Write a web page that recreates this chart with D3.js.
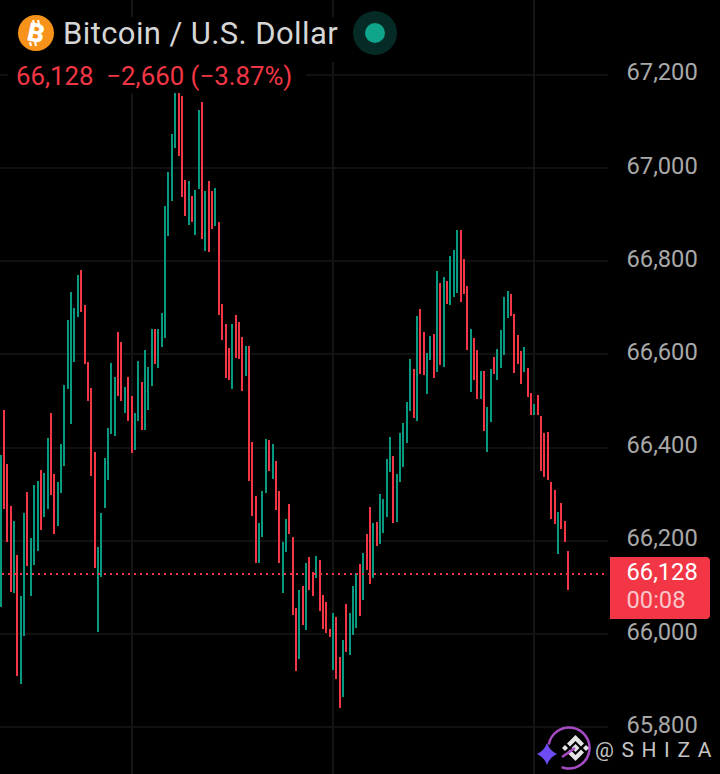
<!DOCTYPE html>
<html>
<head>
<meta charset="utf-8">
<script src="https://cdn.jsdelivr.net/npm/d3@7"></script>
<style>
  html, body { margin: 0; padding: 0; background: #000; }
  svg { display: block; font-family: Roboto, sans-serif; }
</style>
</head>
<body>
<div id="vis"></div>
<script>
var highs = [66384,66481,66365,66275,66243,66170,66082,66260,66305,66206,
  66320,66328,66352,66346,66421,66474,66343,66326,66408,66534,
  66674,66734,66700,66770,66781,66706,66584,66528,66391,66187,
  66260,66378,66442,66582,66552,66648,66627,66530,66551,66511,
  66474,66586,66541,66609,66573,66654,66654,66654,66689,66918,
  66991,67073,67160,67160,67154,66974,66972,66940,66953,67124,
  67142,66951,66972,66951,66957,66884,66708,66665,66614,66665,
  66684,66669,66637,66618,66618,66412,66296,66238,66307,66418,
  66416,66408,66371,66307,66197,66247,66279,66208,66056,66094,
  66103,66152,66165,66133,66167,66159,66084,66069,66011,66045,
  66036,65951,65987,66064,66045,66103,66131,66150,66174,66215,
  66273,66238,66240,66300,66290,66376,66423,66382,66343,66431,
  66453,66498,66590,66569,66682,66697,66648,66603,66640,66644,
  66779,66753,66766,66758,66811,66824,66867,66867,66805,66747,
  66655,66635,66609,66564,66564,66487,66569,66594,66612,66652,
  66723,66736,66730,66687,66642,66607,66616,66571,66517,66494,
  66513,66468,66431,66434,66326,66309,66262,66281,66243,66178];

var lows = [66059,66268,66197,66090,66088,65910,65893,65996,66146,66082,
  66148,66178,66223,66251,66268,66298,66215,66232,66303,66361,
  66526,66451,66584,66680,66691,66579,66500,66339,66142,66004,
  66122,66270,66331,66429,66425,66511,66500,66474,66457,66388,
  66395,66457,66438,66438,66481,66532,66579,66571,66616,66635,
  66854,66929,67043,67026,66938,66897,66878,66884,66856,66955,
  66848,66822,66820,66869,66875,66685,66631,66549,66545,66526,
  66592,66590,66521,66554,66328,66253,66152,66152,66208,66303,
  66350,66333,66266,66152,66088,66176,66215,66041,65921,65946,
  66019,66009,66094,66082,66120,66049,66011,66002,65994,65923,
  65903,65841,65865,65961,65955,65998,66013,66039,66073,66137,
  66107,66120,66189,66193,66217,66251,66348,66238,66240,66326,
  66358,66410,66479,66464,66457,66558,66556,66515,66588,66549,
  66562,66577,66573,66708,66706,66723,66732,66712,66730,66609,
  66519,66545,66504,66504,66436,66391,66455,66558,66545,66571,
  66599,66678,66682,66560,66579,66537,66562,66509,66470,66470,
  66470,66350,66337,66331,66247,66236,66172,66225,66197,66094];

// indexes of the rising bars, everything else is red
var greenBars = [0,4,6,7,9,10,11,13,14,17,18,19,20,21,22,23,29,30,31,32,33,34,37,40,41,43,44,45,47,48,49,50,51,52,
  56,58,59,61,64,69,73,77,78,79,81,84,85,89,91,94,99,102,104,105,106,108,111,113,114,115,116,118,119,120,121,122,
  124,127,128,130,132,134,135,136,140,143,145,146,148,149,150,151,156,159,166];

var priceTicks = [65800,66000,66200,66400,66600,66800,67000,67200];
var timeTicks = [39,99,159];
var lastPrice = 66128;
var titleText = "Bitcoin / U.S. Dollar";
var changeText = "66,128  \u22122,660 (\u22123.87%)";
var countdown = "00:08";
var handle = "@SHIZA";

var width = 720, height = 774, red = "#f23645", green = "#089981";

var x = d3.scaleLinear().domain([0,169]).range([0.64,568]);
var y = d3.scaleLinear().domain([65800,67200]).range([727.2,74.8]);

var svg = d3.select("#vis").append("svg")
  .attr("width", width)
  .attr("height", height);

svg.append("rect").attr("width", width).attr("height", height).attr("fill", "#000");

// grid
svg.selectAll(".hgrid").data(priceTicks).enter().append("line")
  .attr("class", "hgrid")
  .attr("x1", 0).attr("x2", 608)
  .attr("y1", function(d){ return Math.round(y(d)); })
  .attr("y2", function(d){ return Math.round(y(d)); })
  .attr("stroke", "#111").attr("stroke-width", 2);

svg.selectAll(".vgrid").data(timeTicks).enter().append("line")
  .attr("class", "vgrid")
  .attr("x1", function(d){ return Math.round(x(d)); })
  .attr("x2", function(d){ return Math.round(x(d)); })
  .attr("y1", 0).attr("y2", height)
  .attr("stroke", "#141414").attr("stroke-width", 2);

// bars
svg.selectAll(".bar").data(highs).enter().append("rect")
  .attr("class", "bar")
  .attr("x", function(d,i){ return Math.round(x(i) - 1); })
  .attr("width", 2)
  .attr("y", function(d){ return Math.round(y(d)); })
  .attr("height", function(d,i){ return Math.round(y(lows[i])) - Math.round(y(d)); })
  .attr("fill", function(d,i){ return greenBars.indexOf(i) >= 0 ? green : red; });

// last price line
svg.append("line")
  .attr("x1", 2).attr("x2", 608)
  .attr("y1", Math.round(y(lastPrice))).attr("y2", Math.round(y(lastPrice)))
  .attr("stroke", red).attr("stroke-width", 2)
  .attr("stroke-dasharray", "2 4");

// header backgrounds hide the grid behind the text
svg.append("rect").attr("x", 8).attr("y", 17).attr("width", 392).attr("height", 45).attr("fill", "#000");
svg.append("rect").attr("x", 8).attr("y", 62).attr("width", 298).attr("height", 31).attr("fill", "#000");

// axis
var yAxis = d3.axisRight(y)
  .tickValues(priceTicks)
  .tickSize(0)
  .tickPadding(0)
  .tickFormat(d3.format(","));

var axisG = svg.append("g")
  .attr("transform", "translate(626.5,-2.5)")
  .call(yAxis);
axisG.select(".domain").remove();
axisG.selectAll("text")
  .attr("fill", "#a8a8a8")
  .style("font-size", "23.7px")
  .style("font-family", "Roboto, sans-serif");

// price tag
svg.append("path")
  .attr("d", "M610,557 H706 Q710,557 710,561 V615 Q710,619 706,619 H610 Z")
  .attr("fill", red);
svg.append("text").attr("x", 626.5).attr("y", 580)
  .attr("fill", "#fff").style("font-size", "23.7px")
  .text(d3.format(",")(lastPrice));
svg.append("text").attr("x", 626.5).attr("y", 608)
  .attr("fill", "#fff").attr("fill-opacity", 0.72).style("font-size", "23.7px")
  .text(countdown);

// header
svg.append("circle").attr("cx", 36).attr("cy", 33).attr("r", 18).attr("fill", "#f7931a");
svg.append("text").attr("x", 36).attr("y", 42)
  .attr("text-anchor", "middle")
  .attr("transform", "rotate(12 36 33)")
  .attr("fill", "#fff")
  .style("font-size", "26px").style("font-weight", 900)
  .text("B");
svg.selectAll(".tick-b").data([33,38]).enter().append("line")
  .attr("x1", function(d){ return d; })
  .attr("x2", function(d){ return d + 1; })
  .attr("y1", 20).attr("y2", 24)
  .attr("stroke", "#fff").attr("stroke-width", 2);
svg.selectAll(".tick-c").data([30,35]).enter().append("line")
  .attr("x1", function(d){ return d; })
  .attr("x2", function(d){ return d + 1; })
  .attr("y1", 42).attr("y2", 46)
  .attr("stroke", "#fff").attr("stroke-width", 2);

svg.append("text").attr("x", 63).attr("y", 44)
  .attr("fill", "#d6d6d6").style("font-size", "31px").style("letter-spacing", "0.4px")
  .text(titleText);
svg.append("text").attr("x", 16).attr("y", 85)
  .attr("fill", red).style("font-size", "25.8px").style("white-space", "pre")
  .text(changeText);

svg.append("circle").attr("cx", 375).attr("cy", 33).attr("r", 22).attr("fill", "#062a25");
svg.append("circle").attr("cx", 375).attr("cy", 33).attr("r", 10).attr("fill", "#0ea58c");

// watermark
svg.append("circle").attr("cx", 569).attr("cy", 748).attr("r", 20.5)
  .attr("fill", "#000").attr("stroke", "#a64bc4").attr("stroke-width", 2.5)
  .attr("stroke-dasharray", "100 29").attr("transform", "rotate(190 569 748)");
var logoPaths = [
  "M575.5,735 L584,743.5 L581,746.5 L575.5,741 L570,746.5 L567,743.5 Z",
  "M575.5,761 L584,752.5 L581,749.5 L575.5,755 L570,749.5 L567,752.5 Z",
  "M565,745 L568,748 L565,751 L562,748 Z",
  "M586,745 L589,748 L586,751 L583,748 Z",
  "M575.5,744 L579.5,748 L575.5,752 L571.5,748 Z"
];
svg.selectAll(".bn").data(logoPaths).enter().append("path")
  .attr("class", "bn")
  .attr("d", function(d){ return d; })
  .attr("fill", "#e4e4e4");
svg.append("line").attr("x1", 562).attr("y1", 757).attr("x2", 575).attr("y2", 748)
  .attr("stroke", "#a64bc4").attr("stroke-width", 2.5);
svg.append("path")
  .attr("d", "M547,743 Q550,751 557,754 Q550,757 547,765 Q544,757 537,754 Q544,751 547,743 Z")
  .attr("fill", "#6d4cf5");
svg.append("text").attr("x", 595).attr("y", 756.5)
  .attr("fill", "#c4c4c4").style("font-size", "21px").style("letter-spacing", "7.6px")
  .text(handle);
</script>
</body>
</html>
